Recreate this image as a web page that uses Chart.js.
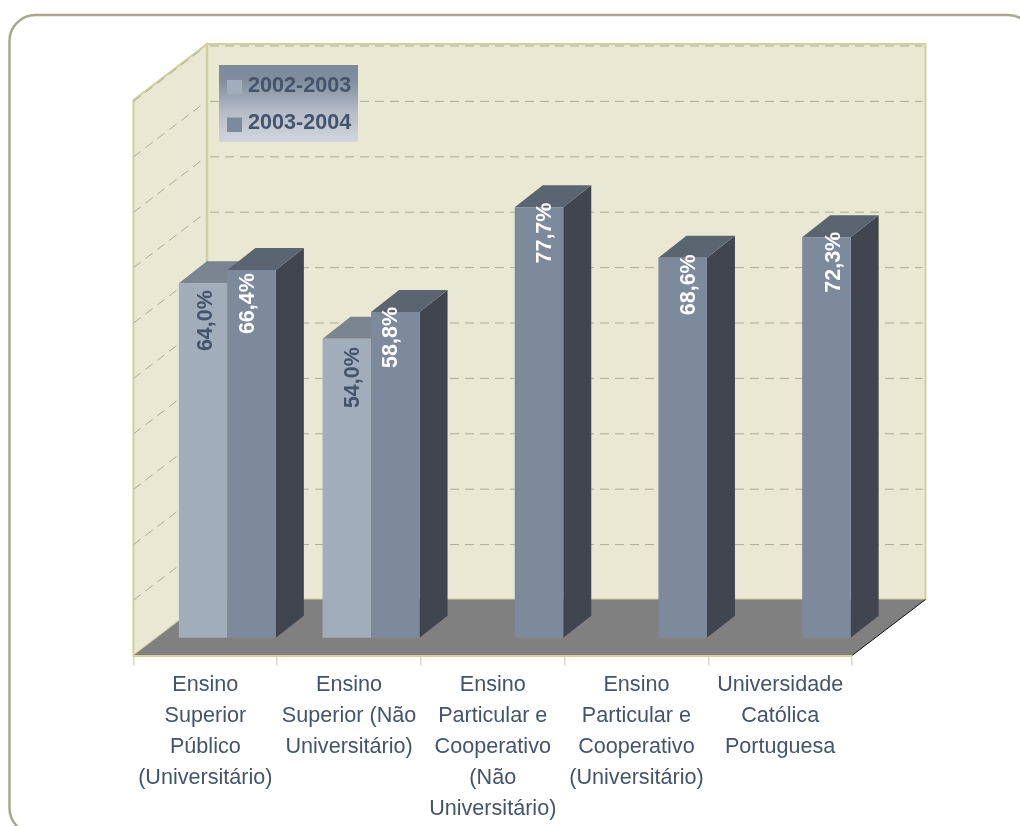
<!DOCTYPE html>
<html><head><meta charset="utf-8">
<style>html,body{margin:0;padding:0;background:#fff}canvas{display:block}</style>
<script src="https://cdn.jsdelivr.net/npm/chart.js@4"></script>
</head><body><canvas id="c" width="1020" height="826"></canvas>
<script>
const categories = [
  ["Ensino","Superior","Público","(Universitário)"],
  ["Ensino","Superior (Não","Universitário)"],
  ["Ensino","Particular e","Cooperativo","(Não","Universitário)"],
  ["Ensino","Particular e","Cooperativo","(Universitário)"],
  ["Universidade","Católica","Portuguesa"]
];
const series2002 = [64.0, 54.0, null, null, null];
const series2003 = [66.4, 58.8, 77.7, 68.6, 72.3];
const seriesNames = ["2002-2003", "2003-2004"];
const gridTicks = [0,10,20,30,40,50,60,70,80,90,100];

const FONT = '"Liberation Sans", Arial, sans-serif';
const TEXT = '#44546a';
const WALL = '#e8e8d3', EDGE = '#cfcf9f', GRID = '#adad96';
const BACK = {x:73.5, y:-56};
const BAR_SHIFT = {x:22, y:-17.7};
const DEPTH = {x:28, y:-22};
const labelNudge = [
  [[3,37.4],[6.5,39],null,null,null],
  [[-3.5,33.7],[-4,25.4],[6.5,25.7],[6.5,27],[8,25]]
];
const faces = [
  {top:'#7a8591', side:'#3f4650'},
  {top:'#5b6572', side:'#3f4650'}
];
function poly(ctx, pts, fill, stroke, lw){
  ctx.beginPath();
  pts.forEach((p,i)=> i?ctx.lineTo(p[0],p[1]):ctx.moveTo(p[0],p[1]));
  ctx.closePath();
  if(fill){ctx.fillStyle=fill;ctx.fill();}
  if(stroke){ctx.strokeStyle=stroke;ctx.lineWidth=lw||1;ctx.stroke();}
}
const scene = {
  id:'scene',
  beforeDraw(chart){
    const {ctx, chartArea:a, scales:{y}} = chart;
    ctx.save();
    ctx.beginPath();
    ctx.roundRect(9.5,15,1024.5,819,26);
    ctx.strokeStyle='#a8a88e';ctx.lineWidth=2.5;ctx.stroke();
    const L=a.left,R=a.right,T=a.top,B=a.bottom,bx=BACK.x,by=BACK.y;
    poly(ctx,[[L,T],[L+bx,T+by],[L+bx,B+by],[L,B]],WALL,EDGE,2);
    poly(ctx,[[L+bx,T+by],[R+bx,T+by],[R+bx,B+by],[L+bx,B+by]],WALL,EDGE,2);
    ctx.strokeStyle=GRID;ctx.lineWidth=1;ctx.setLineDash([9,6]);
    gridTicks.slice(1).forEach(v=>{
      const py=y.getPixelForValue(v);
      const k=(bx-6)/bx;
      ctx.beginPath();ctx.moveTo(L,py);ctx.lineTo(L+bx*k,py+by*k);ctx.stroke();
      ctx.beginPath();ctx.moveTo(L+bx+3,py+by+.5);ctx.lineTo(R+bx-3,py+by+.5);ctx.stroke();
    });
    ctx.setLineDash([]);
    ctx.strokeStyle=EDGE;ctx.lineWidth=2.5;
    ctx.beginPath();ctx.moveTo(L+bx,T+by);ctx.lineTo(L+bx,B+by);ctx.stroke();
    poly(ctx,[[L,B],[L+bx,B+by],[R+bx,B+by],[R,B]],'#808080');
    ctx.strokeStyle='#111';ctx.lineWidth=1;
    ctx.beginPath();ctx.moveTo(R,B);ctx.lineTo(R+bx,B+by);ctx.stroke();
    ctx.restore();
  },
  beforeDatasetsDraw(chart){
    const ctx=chart.ctx;
    ctx.save();
    ctx.translate(BAR_SHIFT.x,BAR_SHIFT.y);
    [0,1].forEach(i=>{
      chart.getDatasetMeta(i).data.forEach((b,k)=>{
        if(chart.data.datasets[i].data[k]==null) return;
        const {x,y,base,width}=b.getProps(['x','y','base','width']);
        const l=x-width/2,r=x+width/2,dx=DEPTH.x,dy=DEPTH.y;
        poly(ctx,[[r,y],[r+dx,y+dy],[r+dx,base+dy],[r,base]],faces[i].side);
        poly(ctx,[[l,y],[l+dx,y+dy],[r+dx,y+dy],[r,y]],faces[i].top);
      });
    });
  },
  afterDatasetsDraw(chart){
    const ctx=chart.ctx;
    ctx.font='bold 21.5px '+FONT;
    ctx.textAlign='center';ctx.textBaseline='middle';
    [0,1].forEach(i=>{
      chart.getDatasetMeta(i).data.forEach((b,k)=>{
        const v=chart.data.datasets[i].data[k];
        if(v==null) return;
        const {x,y}=b.getProps(['x','y']);
        const n=labelNudge[i][k];
        ctx.save();
        ctx.translate(x+n[0],y+n[1]);
        ctx.rotate(-Math.PI/2);
        ctx.fillStyle=i?'#ffffff':TEXT;
        ctx.fillText(v.toFixed(1).replace('.',',')+'%',0,0);
        ctx.restore();
      });
    });
    ctx.restore();
  },
  afterDraw(chart){
    const ctx=chart.ctx;
    ctx.save();
    const g=ctx.createLinearGradient(0,65,0,142);
    g.addColorStop(0,'#7d8a9c');g.addColorStop(.2,'#808d9e');g.addColorStop(.6,'#b4bbc7');g.addColorStop(1,'#d2d6de');
    ctx.fillStyle=g;ctx.fillRect(219,65,139,77);
    chart.data.datasets.forEach((d,i)=>{
      const cy=87+i*37.5;
      ctx.fillStyle=d.backgroundColor;ctx.fillRect(227,cy-7,15,14.5);
      ctx.fillStyle=TEXT;ctx.font='bold 21.6px '+FONT;
      ctx.textAlign='left';ctx.textBaseline='middle';
      ctx.fillText(d.label,248,cy-1);
    });
    ctx.restore();
  }
};
new Chart(document.getElementById('c'),{
  type:'bar',
  data:{labels:categories,datasets:[
    {label:seriesNames[0],data:series2002,backgroundColor:'#a2adbc',clip:false},
    {label:seriesNames[1],data:series2003,backgroundColor:'#7d8a9c',clip:false}
  ]},
  options:{
    responsive:false,animation:false,
    layout:{padding:{left:133.5,right:168,top:100,bottom:0}},
    categoryPercentage:0.675,barPercentage:1,
    plugins:{legend:{display:false},tooltip:{enabled:false},title:{display:false}},
    scales:{
      x:{
        afterFit(s){s.height=170.5;},
        border:{display:true,color:EDGE,width:2},
        grid:{drawOnChartArea:false,color:'#dcdcbc',tickLength:10,lineWidth:1.5},
        ticks:{autoSkip:false,maxRotation:0,minRotation:0,padding:4,color:TEXT,
          font:{family:FONT,size:21.6,lineHeight:31/21.6}}
      },
      y:{display:false,min:0,max:100.27}
    }
  },
  plugins:[scene]
});
</script></body></html>
